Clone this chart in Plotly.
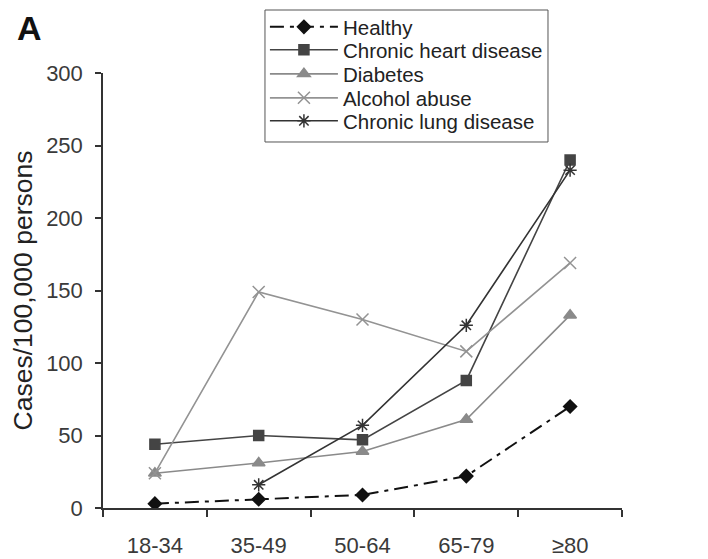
import plotly.graph_objects as go

age_groups = ["18-34", "35-49", "50-64", "65-79", "≥80"]
healthy = [3, 6, 9, 22, 70]
chronic_heart = [44, 50, 47, 88, 240]
diabetes = [24, 31, 39, 61, 133]
alcohol_abuse = [24, 149, 130, 108, 169]
chronic_lung = [None, 16, 57, 126, 233]

fig = go.Figure()

series = [
    ("Healthy", healthy, "#111111", "diamond", "14px,6px,4px,6px", 2.0, 10),
    ("Chronic heart disease", chronic_heart, "#444444", "square", "solid", 1.6, 10),
    ("Diabetes", diabetes, "#8a8a8a", "triangle-up", "solid", 1.6, 11),
    ("Alcohol abuse", alcohol_abuse, "#939393", "x-thin-open", "solid", 1.6, 12),
    ("Chronic lung disease", chronic_lung, "#333333", "asterisk-open", "solid", 1.6, 11),
]

legend_ids = ["legend", "legend2", "legend3", "legend4", "legend5"]
# entry centre rows of the framed legend (paper coords above the plot)
legend_rows = [1.1057, 1.0529, 0.9977, 0.9425, 0.8897]

for (name, vals, color, sym, dash, lw, ms), lid in zip(series, legend_ids):
    fig.add_trace(go.Scatter(
        x=age_groups, y=vals, name=name, mode="lines+markers",
        line=dict(color=color, width=lw, dash=dash),
        marker=dict(symbol=sym, size=ms, color=color,
                    line=dict(color=color, width=1.5)),
        connectgaps=False, legend=lid,
    ))

legend_layout = {}
for lid, ly in zip(legend_ids, legend_rows):
    legend_layout[lid] = dict(
        x=0.312, y=ly, xanchor="left", yanchor="middle",
        borderwidth=0, bgcolor="rgba(0,0,0,0)",
        font=dict(size=20.5, color="#222222"), tracegroupgap=0,
        itemwidth=68,
    )

fig.update_layout(
    width=700, height=551,
    margin=dict(l=95, r=86, t=65, b=51, autoexpand=False),
    paper_bgcolor="white", plot_bgcolor="white",
    font=dict(family="Liberation Sans, Arial, sans-serif", color="#333333", size=20),
    showlegend=True,
    shapes=[dict(
        type="rect", xref="paper", yref="paper",
        x0=0.3121, x1=0.8574, y0=0.8414, y1=1.1448,
        line=dict(color="#555555", width=1), fillcolor="rgba(0,0,0,0)",
        layer="above",
    )],
    annotations=[dict(
        text="<b>A</b>", x=-0.1416, y=1.1034, xref="paper", yref="paper",
        xanchor="center", yanchor="middle",
        showarrow=False, font=dict(size=34, color="#111111"),
    )],
    **legend_layout,
)

fig.update_xaxes(
    type="category", range=[-0.5, 4.5],
    showline=True, linecolor="#333333", linewidth=1.5,
    ticks="outside", tickson="boundaries", ticklen=7, tickcolor="#333333", tickwidth=1.5,
    showgrid=False, zeroline=False, ticklabelstandoff=17,
    tickfont=dict(size=22, color="#3a3a3a"),
)
fig.update_yaxes(
    range=[0, 300], dtick=50,
    showline=True, linecolor="#333333", linewidth=1.5,
    ticks="outside", ticklen=6, tickcolor="#333333", tickwidth=1.5,
    showgrid=False, zeroline=False, ticklabelstandoff=8,
    tickfont=dict(size=22, color="#3a3a3a"),
    title=dict(text="Cases/100,000 persons", font=dict(size=26.5, color="#222222"), standoff=10),
)

fig.write_html("out.html")
